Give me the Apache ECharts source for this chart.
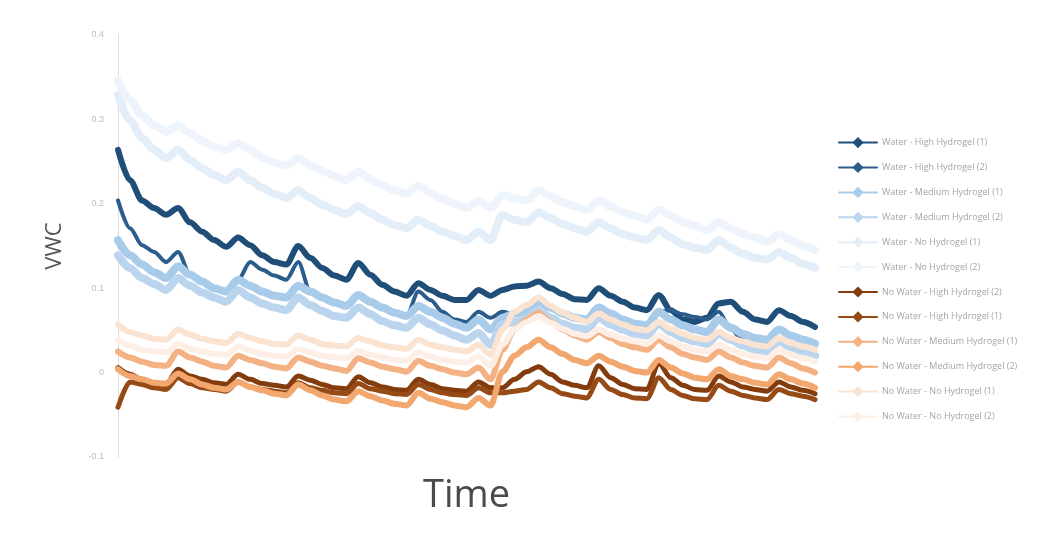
<!DOCTYPE html>
<html>
<head>
<meta charset="utf-8">
<script src="https://cdn.jsdelivr.net/npm/echarts@6/dist/echarts.min.js"></script>
<style>
  html, body { margin: 0; padding: 0; background: #fff; }
  #chart { width: 1056px; height: 540px; }
</style>
</head>
<body>
<div id="chart"></div>
<script>
// Sample index along the logging period (about five readings per day)
const timeSteps = Array.from({ length: 59 }, (_, i) => i);

const yTicks = [-0.1, 0, 0.1, 0.2, 0.3, 0.4];

const seriesNames = [
  'Water - High Hydrogel (1)',
  'Water - High Hydrogel (2)',
  'Water - Medium Hydrogel (1)',
  'Water - Medium Hydrogel (2)',
  'Water - No Hydrogel (1)',
  'Water - No Hydrogel (2)',
  'No Water - High Hydrogel (2)',
  'No Water - High Hydrogel (1)',
  'No Water - Medium Hydrogel (1)',
  'No Water - Medium Hydrogel (2)',
  'No Water - No Hydrogel (1)',
  'No Water - No Hydrogel (2)'
];

const waterHigh1 = [.264,.228,.204,.195,.187,.195,.178,.167,.157,.149,.160,.151,.139,.131,.128,.150,.136,.124,.115,.110,.130,.116,.104,.096,.091,.106,.098,.091,.086,.086,.098,.091,.098,.102,.103,.108,.100,.093,.087,.086,.100,.091,.084,.077,.074,.092,.074,.063,.060,.065,.082,.084,.072,.063,.060,.074,.067,.060,.054];
const waterHigh2 = [.204,.171,.151,.143,.131,.143,.116,.108,.100,.096,.110,.131,.122,.115,.110,.131,.096,.089,.083,.079,.092,.084,.077,.071,.067,.096,.086,.072,.063,.060,.072,.065,.072,.069,.072,.084,.077,.070,.065,.063,.077,.070,.063,.058,.056,.072,.074,.069,.066,.063,.072,.051,.039,.035,.033,.051,.044,.039,.034];
const waterMed1 = [.157,.139,.128,.119,.112,.126,.116,.108,.100,.096,.110,.103,.096,.091,.089,.103,.096,.089,.083,.079,.092,.084,.077,.071,.067,.079,.072,.065,.058,.053,.063,.051,.065,.070,.072,.084,.077,.070,.065,.063,.077,.070,.063,.058,.056,.072,.063,.056,.051,.048,.063,.053,.046,.041,.039,.051,.044,.039,.034];
const waterMed2 = [.139,.124,.112,.105,.098,.112,.103,.095,.089,.084,.098,.089,.082,.077,.074,.089,.080,.073,.067,.065,.077,.069,.061,.056,.053,.065,.057,.050,.044,.039,.047,.033,.057,.060,.063,.074,.065,.058,.053,.051,.065,.057,.051,.046,.044,.058,.048,.041,.037,.034,.046,.039,.032,.027,.025,.037,.030,.025,.020];
const waterNone1 = [.329,.299,.278,.264,.254,.264,.252,.242,.234,.228,.238,.228,.219,.212,.207,.216,.207,.199,.193,.188,.197,.189,.181,.175,.171,.181,.174,.167,.162,.157,.167,.157,.187,.181,.178,.190,.183,.176,.171,.167,.178,.171,.164,.160,.157,.169,.160,.152,.148,.145,.157,.148,.141,.136,.134,.143,.136,.129,.124];
const waterNone2 = [.346,.323,.305,.293,.285,.293,.284,.275,.268,.264,.272,.264,.255,.249,.245,.254,.246,.239,.233,.228,.238,.229,.222,.216,.212,.221,.213,.206,.200,.195,.204,.195,.210,.207,.204,.216,.209,.202,.197,.193,.204,.197,.190,.186,.181,.193,.186,.178,.174,.169,.178,.171,.164,.160,.155,.164,.157,.150,.145];
const dryHigh2 = [.006,-.002,-.008,-.012,-.014,.004,-.004,-.008,-.012,-.014,-.002,-.008,-.013,-.015,-.017,-.004,-.009,-.014,-.018,-.019,-.005,-.012,-.017,-.020,-.021,-.008,-.014,-.019,-.021,-.022,-.011,-.018,-.018,-.008,.001,.007,-.002,-.011,-.015,-.018,.008,-.006,-.014,-.019,-.020,.011,-.006,-.015,-.020,-.021,-.004,-.011,-.017,-.020,-.022,-.011,-.017,-.021,-.025];
const dryHigh1 = [-.041,-.011,-.014,-.018,-.020,-.006,-.013,-.018,-.020,-.022,-.011,-.017,-.020,-.022,-.024,-.012,-.018,-.021,-.024,-.025,-.013,-.019,-.022,-.025,-.026,-.014,-.020,-.024,-.026,-.027,-.018,-.024,-.024,-.022,-.020,-.011,-.018,-.025,-.028,-.030,-.008,-.020,-.026,-.030,-.031,-.006,-.020,-.027,-.031,-.032,-.015,-.022,-.027,-.030,-.032,-.020,-.025,-.028,-.032];
const dryMed1 = [.025,.018,.013,.009,.008,.025,.018,.013,.008,.006,.020,.015,.011,.007,.005,.018,.013,.008,.005,.002,.017,.012,.007,.004,.001,.014,.008,.004,.000,-.002,.006,-.008,.027,.051,.063,.071,.060,.051,.044,.039,.048,.041,.034,.030,.027,.039,.030,.022,.018,.015,.025,.018,.012,.008,.006,.018,.011,.005,.000];
const dryMed2 = [.004,-.004,-.008,-.012,-.013,-.001,-.008,-.014,-.018,-.020,-.011,-.017,-.021,-.025,-.027,-.014,-.021,-.027,-.032,-.034,-.022,-.028,-.033,-.037,-.039,-.024,-.031,-.035,-.039,-.041,-.030,-.039,.001,.020,.030,.039,.030,.022,.015,.011,.020,.013,.007,.002,.000,.015,.006,-.001,-.006,-.008,.004,-.004,-.008,-.012,-.014,-.002,-.008,-.013,-.018];
const dryNone1 = [.057,.048,.044,.040,.039,.051,.045,.040,.037,.035,.046,.041,.037,.034,.033,.044,.039,.034,.032,.031,.041,.037,.032,.030,.028,.039,.033,.030,.027,.025,.033,.021,.051,.072,.080,.089,.079,.071,.065,.060,.070,.063,.057,.052,.050,.060,.052,.046,.041,.039,.048,.041,.037,.033,.031,.041,.035,.031,.027];
const dryNone2 = [.039,.032,.027,.025,.024,.034,.028,.025,.022,.021,.031,.026,.022,.020,.019,.028,.024,.020,.018,.017,.026,.021,.018,.015,.014,.024,.019,.015,.013,.012,.019,.008,.033,.051,.060,.067,.059,.052,.046,.043,.051,.045,.040,.037,.034,.044,.037,.031,.027,.025,.033,.027,.022,.019,.017,.027,.021,.017,.013];

const seriesValues = [waterHigh1, waterHigh2, waterMed1, waterMed2, waterNone1, waterNone2,
                      dryHigh2, dryHigh1, dryMed1, dryMed2, dryNone1, dryNone2];

// Blues for watered pots, browns/oranges for unwatered ones
const colors = ['#1f4e79', '#2a5d8c', '#a9cbea', '#bcd5ee', '#e4eef9', '#eef4fb',
                '#843c0c', '#964a16', '#f4b183', '#f2a76f', '#fbe3d2', '#fdefe5'];
const widths = [6, 4, 8, 8, 8, 8, 5, 5, 6, 6, 6, 6];

const series = seriesNames.map((name, k) => ({
  name,
  type: 'line',
  data: seriesValues[k],
  symbol: 'diamond',
  symbolSize: 8,
  showSymbol: false,
  smooth: 0.3,
  smoothMonotone: 'x',
  lineStyle: { width: widths[k], color: colors[k], cap: 'round', join: 'round' },
  itemStyle: { color: colors[k] },
  emphasis: { disabled: true }
}));

const chart = echarts.init(document.getElementById('chart'), null, { renderer: 'canvas' });
chart.setOption({
  animation: false,
  backgroundColor: '#ffffff',
  grid: { left: 118, right: 241, top: 35, bottom: 83 },
  xAxis: {
    type: 'category',
    data: timeSteps,
    boundaryGap: false,
    name: 'Time',
    nameLocation: 'middle',
    nameGap: 20,
    nameTextStyle: { fontSize: 38, color: '#4a4a4a', fontFamily: 'Open Sans' },
    axisLine: { show: false },
    axisTick: { show: false },
    axisLabel: { show: false },
    splitLine: { show: false }
  },
  yAxis: {
    type: 'value',
    min: yTicks[0],
    max: yTicks[yTicks.length - 1],
    interval: 0.1,
    name: 'VWC',
    nameLocation: 'middle',
    nameGap: 52,
    nameRotate: 90,
    nameTextStyle: { fontSize: 22, color: '#555', fontFamily: 'Open Sans' },
    axisLine: { show: true, lineStyle: { color: '#dcdcdc', width: 1 } },
    axisTick: { show: false },
    axisLabel: {
      color: '#bdbdbd',
      fontSize: 9,
      margin: 14,
      formatter: v => String(+v.toFixed(1))
    },
    splitLine: { show: false }
  },
  legend: {
    orient: 'vertical',
    left: 833,
    top: 132,
    itemGap: 13.7,
    itemWidth: 38,
    itemHeight: 14,
    data: seriesNames,
    textStyle: { fontSize: 9, color: '#a5a5a5', fontFamily: 'Open Sans' }
  },
  series
});
</script>
</body>
</html>
